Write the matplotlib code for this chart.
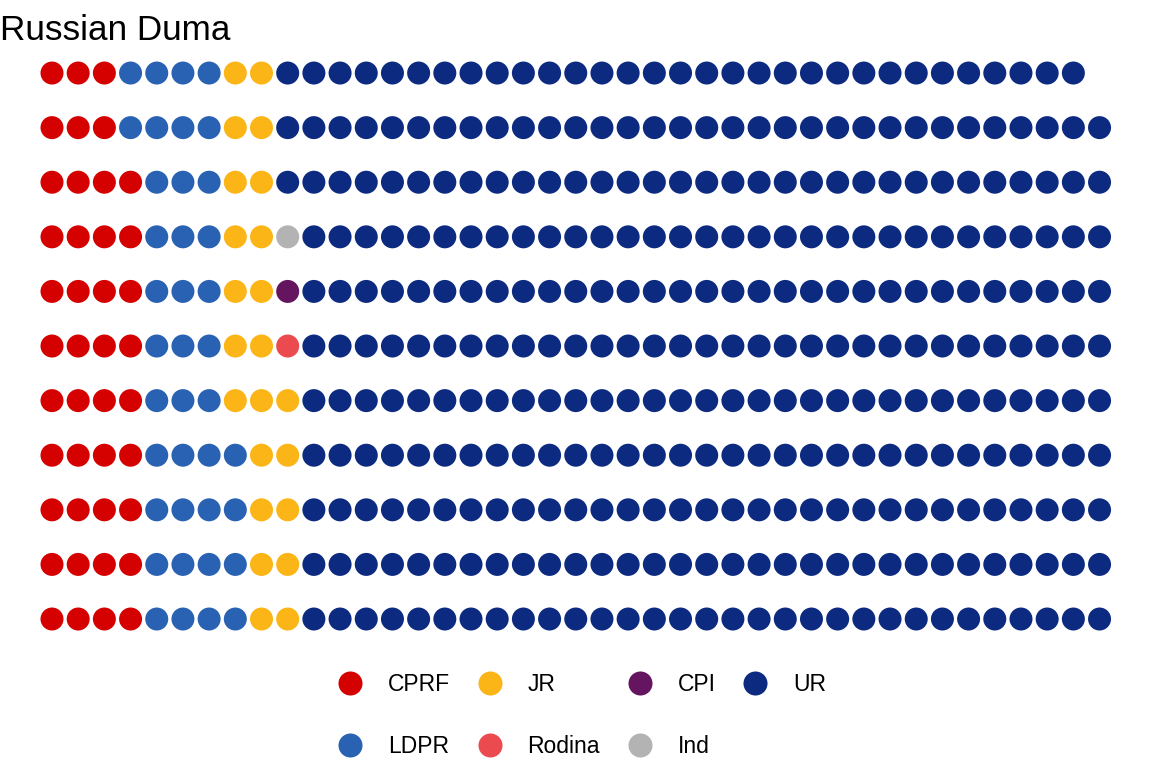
import matplotlib
matplotlib.use("Agg")
import matplotlib.pyplot as plt
from matplotlib.lines import Line2D

plt.rcParams['font.family'] = ['Liberation Sans', 'DejaVu Sans']

# parties in seating order (left to right, bottom to top in each column)
parties = ['CPRF', 'LDPR', 'JR', 'Rodina', 'CPI', 'Ind', 'UR']
seats = [42, 39, 23, 1, 1, 1, 343]
colors = ['#D50000', '#2A62B3', '#FBB516', '#EB4A4F', '#651460', '#B3B3B3', '#0C2A80']
n_rows = 11

# one entry per seat
seat_party = []
for p, n in zip(parties, seats):
    seat_party += [p] * n

# fill columns from the bottom up
xs, ys, cs = [], [], []
for i, p in enumerate(seat_party):
    xs.append(i // n_rows)
    ys.append(i % n_rows)
    cs.append(colors[parties.index(p)])

fig = plt.figure(figsize=(11.52, 7.68), dpi=100)
ax = fig.add_axes([0.0224, 0.1229, 0.9548, 0.8531])
dot = 23 * 72 / 100
ax.scatter(xs, ys, s=dot ** 2, c=cs, linewidths=0)
ax.set_xlim(-1, 41)
ax.set_ylim(-1, 11)
ax.axis('off')

fig.text(0.0, 1 - 40 / 768, 'Russian Duma', fontsize=25.3, va='baseline', ha='left')

# legend
handles = [Line2D([], [], marker='o', linestyle='', markersize=17.3,
                  markerfacecolor=c, markeredgewidth=0) for c in colors]
fig.legend(handles, parties, ncol=4, loc='center', bbox_to_anchor=(0.5057, 0.0686),
           frameon=False, fontsize=16.5, handlelength=0.97, handletextpad=1.16,
           columnspacing=1.25, labelspacing=1.7, borderpad=0)

fig.savefig('out.png', dpi=100)
